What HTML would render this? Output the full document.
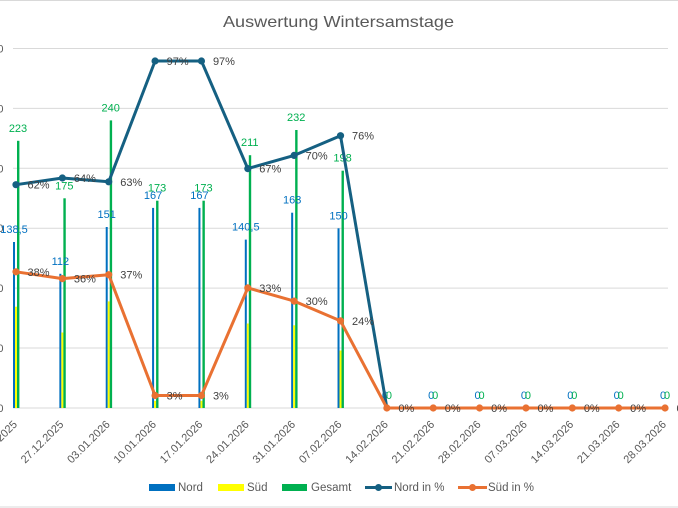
<!DOCTYPE html>
<html><head><meta charset="utf-8"><style>
html,body{margin:0;padding:0;background:#fff;}
svg{display:block;}
text{font-family:"Liberation Sans",Arial,sans-serif;}
</style></head><body>
<svg width="678" height="508" viewBox="0 0 678 508" xmlns="http://www.w3.org/2000/svg">
<rect width="678" height="508" fill="#fff"/>
<line x1="0" y1="0.5" x2="678" y2="0.5" stroke="#d9d9d9"/>
<line x1="0" y1="507" x2="678" y2="507" stroke="#d9d9d9"/>
<text x="338.5" y="27" font-size="16" fill="#595959" text-anchor="middle" textLength="231" lengthAdjust="spacingAndGlyphs">Auswertung Wintersamstage</text>
<g stroke="#d9d9d9" stroke-width="1">
<line x1="13" y1="48.5" x2="668" y2="48.5"/>
<line x1="13" y1="108.4" x2="668" y2="108.4"/>
<line x1="13" y1="168.3" x2="668" y2="168.3"/>
<line x1="13" y1="228.2" x2="668" y2="228.2"/>
<line x1="13" y1="288.1" x2="668" y2="288.1"/>
<line x1="13" y1="348" x2="668" y2="348"/>
<line x1="13" y1="408" x2="668" y2="408"/>
</g>
<g font-size="11" fill="#595959" text-anchor="end">
<text x="3.5" y="52.5">300</text>
<text x="3.5" y="112.4">250</text>
<text x="3.5" y="172.3">200</text>
<text x="3.5" y="232.2">150</text>
<text x="3.5" y="292.1">100</text>
<text x="3.5" y="352">50</text>
<text x="3.5" y="412">0</text>
</g>
<!-- bars -->
<g>
<rect x="13" y="242" width="2" height="166" fill="#0070C0"/><rect x="15" y="306.7" width="2" height="101.3" fill="#FFFF00"/><rect x="17" y="140.8" width="2.4" height="267.2" fill="#00B050"/>
<rect x="59.36" y="273.8" width="2" height="134.2" fill="#0070C0"/><rect x="61.36" y="332.5" width="2" height="75.5" fill="#FFFF00"/><rect x="63.36" y="198.3" width="2.4" height="209.7" fill="#00B050"/>
<rect x="105.72" y="227" width="2" height="181" fill="#0070C0"/><rect x="107.72" y="301.4" width="2" height="106.6" fill="#FFFF00"/><rect x="109.72" y="120.4" width="2.4" height="287.6" fill="#00B050"/>
<rect x="152.08" y="207.9" width="2" height="200.1" fill="#0070C0"/><rect x="154.08" y="400.8" width="2" height="7.2" fill="#FFFF00"/><rect x="156.08" y="200.7" width="2.4" height="207.3" fill="#00B050"/>
<rect x="198.44" y="207.9" width="2" height="200.1" fill="#0070C0"/><rect x="200.44" y="400.8" width="2" height="7.2" fill="#FFFF00"/><rect x="202.44" y="200.7" width="2.4" height="207.3" fill="#00B050"/>
<rect x="244.8" y="239.6" width="2" height="168.4" fill="#0070C0"/><rect x="246.8" y="323.5" width="2" height="84.5" fill="#FFFF00"/><rect x="248.8" y="155.2" width="2.4" height="252.8" fill="#00B050"/>
<rect x="291.16" y="212.7" width="2" height="195.3" fill="#0070C0"/><rect x="293.16" y="325.3" width="2" height="82.7" fill="#FFFF00"/><rect x="295.16" y="130" width="2.4" height="278" fill="#00B050"/>
<rect x="337.52" y="228.3" width="2" height="179.7" fill="#0070C0"/><rect x="339.52" y="350.5" width="2" height="57.5" fill="#FFFF00"/><rect x="341.52" y="170.7" width="2.4" height="237.3" fill="#00B050"/>
</g>
<!-- bar labels -->
<g font-size="11" fill="#0070C0" text-anchor="middle">
<text x="14" y="233">138,5</text>
<text x="60.36" y="264.8">112</text>
<text x="106.72" y="218">151</text>
<text x="153.08" y="198.9">167</text>
<text x="199.44" y="198.9">167</text>
<text x="245.8" y="230.6">140,5</text>
<text x="292.16" y="203.7">163</text>
<text x="338.52" y="219.3">150</text>
<text x="384.88" y="399">0</text>
<text x="431.24" y="399">0</text>
<text x="477.6" y="399">0</text>
<text x="523.96" y="399">0</text>
<text x="570.32" y="399">0</text>
<text x="616.68" y="399">0</text>
<text x="663.04" y="399">0</text>
</g>
<g font-size="11" fill="#00B050" text-anchor="middle">
<text x="18" y="131.8">223</text>
<text x="64.36" y="189.3">175</text>
<text x="110.72" y="111.4">240</text>
<text x="157.08" y="191.7">173</text>
<text x="203.44" y="191.7">173</text>
<text x="249.8" y="146.2">211</text>
<text x="296.16" y="121">232</text>
<text x="342.52" y="161.7">198</text>
<text x="388.88" y="399">0</text>
<text x="435.24" y="399">0</text>
<text x="481.6" y="399">0</text>
<text x="527.96" y="399">0</text>
<text x="574.32" y="399">0</text>
<text x="620.68" y="399">0</text>
<text x="667.04" y="399">0</text>
</g>
<!-- lines -->
<polyline fill="none" stroke="#156082" stroke-width="3" stroke-linejoin="round" points="16,184.7 62.36,178 108.72,181.8 155.08,61 201.44,61 247.8,168.6 294.16,155.4 340.52,135.7 386.88,408 433.24,408 479.6,408 525.96,408 572.32,408 618.68,408 665.04,408"/>
<g fill="#156082">
<circle cx="16" cy="184.7" r="3.6"/><circle cx="62.36" cy="178" r="3.6"/><circle cx="108.72" cy="181.8" r="3.6"/><circle cx="155.08" cy="61" r="3.6"/><circle cx="201.44" cy="61" r="3.6"/><circle cx="247.8" cy="168.6" r="3.6"/><circle cx="294.16" cy="155.4" r="3.6"/><circle cx="340.52" cy="135.7" r="3.6"/>
</g>
<polyline fill="none" stroke="#E97132" stroke-width="3" stroke-linejoin="round" points="16,271.8 62.36,278.6 108.72,274.7 155.08,395.5 201.44,395.5 247.8,287.9 294.16,301.1 340.52,320.9 386.88,408 433.24,408 479.6,408 525.96,408 572.32,408 618.68,408 665.04,408"/>
<g fill="#E97132">
<circle cx="16" cy="271.8" r="3.6"/><circle cx="62.36" cy="278.6" r="3.6"/><circle cx="108.72" cy="274.7" r="3.6"/><circle cx="155.08" cy="395.5" r="3.6"/><circle cx="201.44" cy="395.5" r="3.6"/><circle cx="247.8" cy="287.9" r="3.6"/><circle cx="294.16" cy="301.1" r="3.6"/><circle cx="340.52" cy="320.9" r="3.6"/>
<circle cx="386.88" cy="408" r="3.6"/><circle cx="433.24" cy="408" r="3.6"/><circle cx="479.6" cy="408" r="3.6"/><circle cx="525.96" cy="408" r="3.6"/><circle cx="572.32" cy="408" r="3.6"/><circle cx="618.68" cy="408" r="3.6"/><circle cx="665.04" cy="408" r="3.6"/>
</g>
<!-- percent labels -->
<g font-size="11" fill="#404040">
<text x="27.5" y="188.7">62%</text>
<text x="73.86" y="182">64%</text>
<text x="120.22" y="185.8">63%</text>
<text x="166.58" y="65">97%</text>
<text x="212.94" y="65">97%</text>
<text x="259.3" y="172.6">67%</text>
<text x="305.66" y="159.4">70%</text>
<text x="352.02" y="139.7">76%</text>
<text x="27.5" y="275.8">38%</text>
<text x="73.86" y="282.6">36%</text>
<text x="120.22" y="278.7">37%</text>
<text x="166.58" y="399.5">3%</text>
<text x="212.94" y="399.5">3%</text>
<text x="259.3" y="291.9">33%</text>
<text x="305.66" y="305.1">30%</text>
<text x="352.02" y="324.9">24%</text>
<text x="398.38" y="412">0%</text>
<text x="444.74" y="412">0%</text>
<text x="491.1" y="412">0%</text>
<text x="537.46" y="412">0%</text>
<text x="583.82" y="412">0%</text>
<text x="630.18" y="412">0%</text>
<text x="676.54" y="412">0%</text>
</g>
<!-- x axis labels -->
<g font-size="11" fill="#595959" text-anchor="end">
<text transform="translate(17.8,425) rotate(-45)">20.12.2025</text>
<text transform="translate(64.16,425) rotate(-45)">27.12.2025</text>
<text transform="translate(110.52,425) rotate(-45)">03.01.2026</text>
<text transform="translate(156.88,425) rotate(-45)">10.01.2026</text>
<text transform="translate(203.24,425) rotate(-45)">17.01.2026</text>
<text transform="translate(249.6,425) rotate(-45)">24.01.2026</text>
<text transform="translate(295.96,425) rotate(-45)">31.01.2026</text>
<text transform="translate(342.32,425) rotate(-45)">07.02.2026</text>
<text transform="translate(388.68,425) rotate(-45)">14.02.2026</text>
<text transform="translate(435.04,425) rotate(-45)">21.02.2026</text>
<text transform="translate(481.4,425) rotate(-45)">28.02.2026</text>
<text transform="translate(527.76,425) rotate(-45)">07.03.2026</text>
<text transform="translate(574.12,425) rotate(-45)">14.03.2026</text>
<text transform="translate(620.48,425) rotate(-45)">21.03.2026</text>
<text transform="translate(666.84,425) rotate(-45)">28.03.2026</text>
</g>
<!-- legend -->
<g font-size="11.5" fill="#595959">
<rect x="149" y="484" width="26" height="7" fill="#0070C0"/>
<text x="178" y="491">Nord</text>
<rect x="218" y="484" width="26" height="7" fill="#FFFF00"/>
<text x="247" y="491">Süd</text>
<rect x="282" y="484" width="25" height="7" fill="#00B050"/>
<text x="311" y="491">Gesamt</text>
<line x1="365" y1="487.5" x2="392" y2="487.5" stroke="#156082" stroke-width="3"/>
<circle cx="378.5" cy="487.5" r="3.5" fill="#156082"/>
<text x="394" y="491">Nord in %</text>
<line x1="458" y1="487.5" x2="487" y2="487.5" stroke="#E97132" stroke-width="3"/>
<circle cx="472.5" cy="487.5" r="3.5" fill="#E97132"/>
<text x="488" y="491">Süd in %</text>
</g>
</svg>
</body></html>
